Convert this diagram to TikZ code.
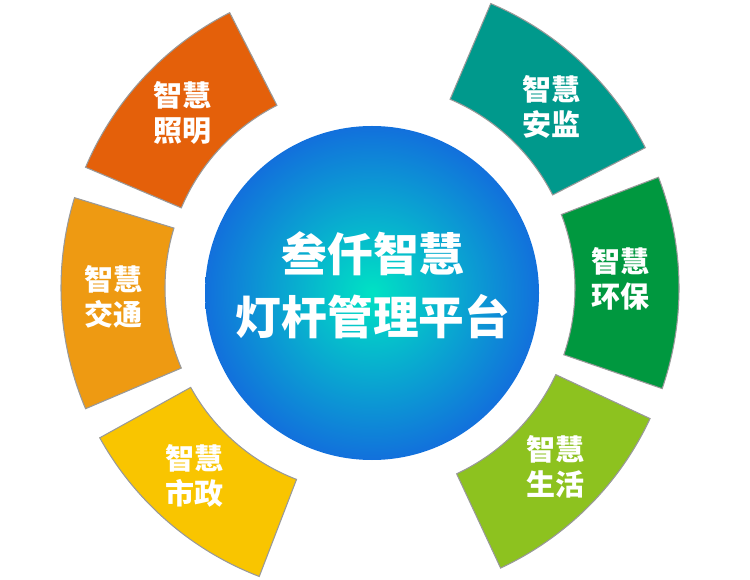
\documentclass[tikz,border=0pt]{standalone}
\usepackage{fontspec}
\setmainfont{Noto Sans CJK SC}
\definecolor{zhaoming}{RGB}{228,96,10}
\definecolor{jiaotong}{RGB}{238,154,18}
\definecolor{shizheng}{RGB}{249,197,0}
\definecolor{anjian}{RGB}{0,153,140}
\definecolor{huanbao}{RGB}{0,152,63}
\definecolor{shenghuo}{RGB}{141,194,31}
\definecolor{hubin}{RGB}{0,226,196}
\definecolor{hubout}{RGB}{18,112,220}

\begin{document}
\begin{tikzpicture}[x=0.02cm,y=0.02cm,
	seg/.style={draw=gray!80,line width=.6pt},
	lbl/.style={text=white,align=center,font=\bfseries\fontsize{16.5}{20}\selectfont},
	title/.style={text=white,align=center,font=\bfseries\fontsize{26}{36}\selectfont}]
	\useasboundingbox (0,0) rectangle (750,-580);
	\begin{scope}[shift={(370,-288)}]
	\draw[seg,fill=zhaoming] (117:309) arc (117:157:309) -- (157:205) arc (157:117:205) -- cycle;
	\draw[seg,fill=jiaotong] (163:309) arc (163:203:309) -- (203:205) arc (203:163:205) -- cycle;
	\draw[seg,fill=shizheng] (209:309) arc (209:249:309) -- (249:205) arc (249:209:205) -- cycle;
	\draw[seg,fill=anjian] (27:309) arc (27:67:309) -- (67:205) arc (67:27:205) -- cycle;
	\draw[seg,fill=huanbao] (-19:309) arc (-19:21:309) -- (21:205) arc (21:-19:205) -- cycle;
	\draw[seg,fill=shenghuo] (-65:309) arc (-65:-25:309) -- (-25:205) arc (-25:-65:205) -- cycle;
	\node[lbl] (zm) at (137:256) {智慧\\照明};
	\node[lbl] (jt) at (182:257) {智慧\\交通};
	\node[lbl] (sz) at (227:257) {智慧\\市政};
	\node[lbl] (aj) at (45:256) {智慧\\安监};
	\node[lbl] (hb) at (2:251) {智慧\\环保};
	\node[lbl] (sh) at (-44:258) {智慧\\生活};
	\end{scope}
	\shade[inner color=hubin,outer color=hubout] (372,-293) circle (167);
	\node[title] (hub) at (373,-285) {叁仟智慧\\灯杆管理平台};
\end{tikzpicture}
\end{document}
